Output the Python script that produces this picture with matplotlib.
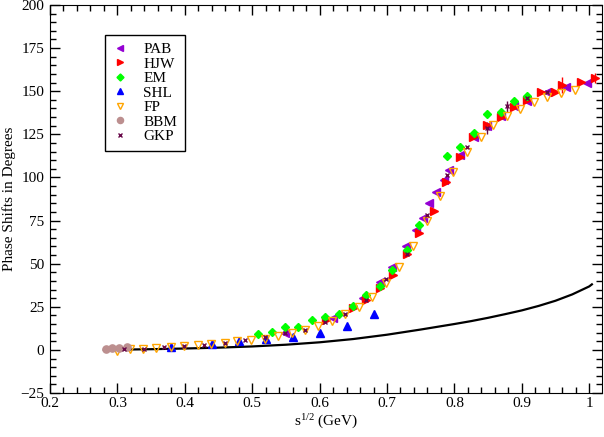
import matplotlib
matplotlib.use("Agg")
import matplotlib.pyplot as plt
from matplotlib.ticker import MultipleLocator, FuncFormatter

plt.rcParams['font.family'] = ['Liberation Serif', 'DejaVu Serif']
plt.rcParams['mathtext.fontset'] = 'custom'
plt.rcParams['mathtext.rm'] = 'Liberation Serif'
plt.rcParams['mathtext.it'] = 'Liberation Serif'

# model curve
curve_x = [0.28, 0.35, 0.40, 0.45, 0.50, 0.55, 0.60, 0.65, 0.70, 0.75, 0.80,
           0.825, 0.85, 0.875, 0.90, 0.925, 0.95, 0.975, 1.00, 1.004]
curve_y = [0.0, 0.4, 0.8, 1.3, 2.0, 3.0, 4.4, 6.3, 8.8, 11.8, 15.0,
           16.7, 18.6, 20.7, 22.9, 25.5, 28.5, 32.2, 36.8, 38.0]

# data sets
pab_x = [0.549, 0.620, 0.664, 0.689, 0.707, 0.728, 0.743, 0.753, 0.763, 0.773, 0.784,
         0.792, 0.808, 0.829, 0.849, 0.869, 0.888, 0.908, 0.938, 0.966, 0.997]
pab_y = [10.0, 18.7, 29.9, 39.2, 48.1, 60.2, 69.8, 76.2, 84.9, 91.6, 98.8,
         104.5, 113.1, 123.2, 130.0, 135.4, 141.2, 144.1, 149.5, 152.2, 155.0]

hjw_x = [0.610, 0.649, 0.669, 0.690, 0.709, 0.729, 0.748, 0.769, 0.788, 0.809,
         0.828, 0.849, 0.869, 0.888, 0.908, 0.928, 0.949, 0.959, 0.988, 1.009]
hjw_y = [17.5, 24.5, 28.9, 35.6, 43.5, 55.4, 67.5, 80.8, 97.2, 111.9,
         123.2, 130.6, 134.8, 140.8, 145.0, 149.5, 149.5, 153.7, 155.3, 157.6]
hjw_err = [0, 0, 0, 0, 0, 0, 0, 0, 0, 0,
           0, 0, 0, 0, 0, 0, 0, 4.5, 0, 3.0]

em_x = [0.509, 0.529, 0.549, 0.568, 0.588, 0.608, 0.629, 0.649, 0.669, 0.689,
        0.708, 0.729, 0.748, 0.789, 0.808, 0.829, 0.849, 0.869, 0.888, 0.908]
em_y = [9.5, 10.4, 13.3, 13.5, 17.6, 19.3, 21.0, 25.5, 32.0, 37.3,
        46.4, 57.7, 72.7, 112.6, 117.6, 126.0, 137.0, 137.7, 144.5, 147.5]

shl_x = [0.38, 0.44, 0.48, 0.52, 0.56, 0.60, 0.64, 0.68]
shl_y = [1.7, 3.3, 5.2, 6.2, 7.2, 10.0, 13.6, 20.6]

fp_x = [0.299, 0.319, 0.338, 0.358, 0.379, 0.399, 0.419, 0.439, 0.459, 0.478,
        0.498, 0.519, 0.539, 0.559, 0.578, 0.598, 0.618, 0.638, 0.658, 0.678,
        0.698, 0.718, 0.738, 0.759, 0.779, 0.798, 0.818, 0.839, 0.858, 0.878,
        0.898, 0.918, 0.938, 0.958, 0.979]
fp_y = [-0.6, 0.4, 0.8, 1.0, 1.6, 2.1, 2.7, 3.7, 4.0, 5.0,
        6.0, 6.6, 8.1, 9.9, 11.7, 14.0, 16.8, 20.6, 25.0, 30.8,
        38.5, 48.0, 60.2, 74.6, 89.1, 103.2, 114.7, 123.5, 130.4, 135.8,
        139.8, 143.7, 146.4, 148.7, 150.8]

bbm_x = [0.283, 0.292, 0.303, 0.314]
bbm_y = [0.4, 0.9, 1.0, 1.5]

gkp_x = [0.310, 0.339, 0.369, 0.399, 0.428, 0.459, 0.489, 0.519, 0.549, 0.578, 0.608,
         0.638, 0.669, 0.699, 0.729, 0.759, 0.789, 0.818, 0.848, 0.878, 0.908, 0.938]
gkp_y = [0.4, 0.8, 1.4, 2.1, 2.9, 4.0, 5.6, 7.2, 10.0, 11.7, 16.3,
         21.0, 28.8, 40.9, 55.8, 78.5, 101.2, 117.6, 128.7, 141.2, 146.0, 149.5]
gkp_err = [0, 0, 0, 0, 0, 0, 0, 0, 0, 0, 0,
           0, 0, 0, 0, 0, 0, 0, 3.5, 3.0, 0, 0]

fig = plt.figure(figsize=(6.04, 4.37), dpi=100)
ax = fig.add_axes([50 / 604, 44 / 437, 552 / 604, 388 / 437])

ms = 5.2
ax.plot(curve_x, curve_y, color='black', lw=1.6, zorder=1)

# error bars drawn separately so the legend keys stay plain markers
ax.errorbar(hjw_x, hjw_y, yerr=hjw_err, fmt='none', ecolor='red', elinewidth=1, capsize=0)
ax.errorbar(gkp_x, gkp_y, yerr=gkp_err, fmt='none', ecolor='#670748', elinewidth=1, capsize=0)

ax.plot(pab_x, pab_y, '<', color='#9400d3', ms=ms, ls='none', label='PAB')
ax.plot(hjw_x, hjw_y, '>', color='red', ms=ms, ls='none', label='HJW')
ax.plot(em_x, em_y, 'D', color='#00ff00', ms=4.2, ls='none', label='EM')
ax.plot(shl_x, shl_y, '^', color='blue', ms=ms, ls='none', label='SHL')
ax.plot(fp_x, fp_y, 'v', mfc='none', mec='#ffa500', mew=1.0, ms=ms + 0.5, ls='none', label='FP')
ax.plot(bbm_x, bbm_y, 'o', color='#bc8f8f', ms=ms, ls='none', label='BBM')
ax.plot(gkp_x, gkp_y, 'x', color='#670748', ms=3.5, mew=1.0, ls='none', label='GKP')

ax.set_xlim(0.2, 1.019)
ax.set_ylim(-25, 200)
ax.xaxis.set_major_locator(MultipleLocator(0.1))
ax.xaxis.set_minor_locator(MultipleLocator(0.02))
ax.yaxis.set_major_locator(MultipleLocator(25))
ax.yaxis.set_minor_locator(MultipleLocator(5))
ax.xaxis.set_major_formatter(FuncFormatter(lambda v, p: '%g' % round(v, 2)))
ax.tick_params(which='both', direction='in', top=True, right=True, labelsize=11)
ax.tick_params(which='major', length=7, width=1)
ax.tick_params(which='minor', length=4, width=1)
ax.tick_params(axis='x', pad=3)
ax.tick_params(axis='y', pad=4)

ax.set_xlabel(r'$\mathregular{s^{1/2}}$ (GeV)', fontsize=11, labelpad=2)
ax.set_ylabel('Phase Shifts in Degrees', fontsize=11, labelpad=3)

leg = ax.legend(loc='upper left', bbox_to_anchor=(0.0996, 0.9227), fontsize=11,
                frameon=True, fancybox=False, edgecolor='black', framealpha=1,
                borderpad=0.5, labelspacing=0.05, handlelength=1.0,
                handletextpad=1.0, borderaxespad=0, markerscale=0.85)
leg.get_frame().set_linewidth(1.0)

fig.savefig('out.png', dpi=100)
